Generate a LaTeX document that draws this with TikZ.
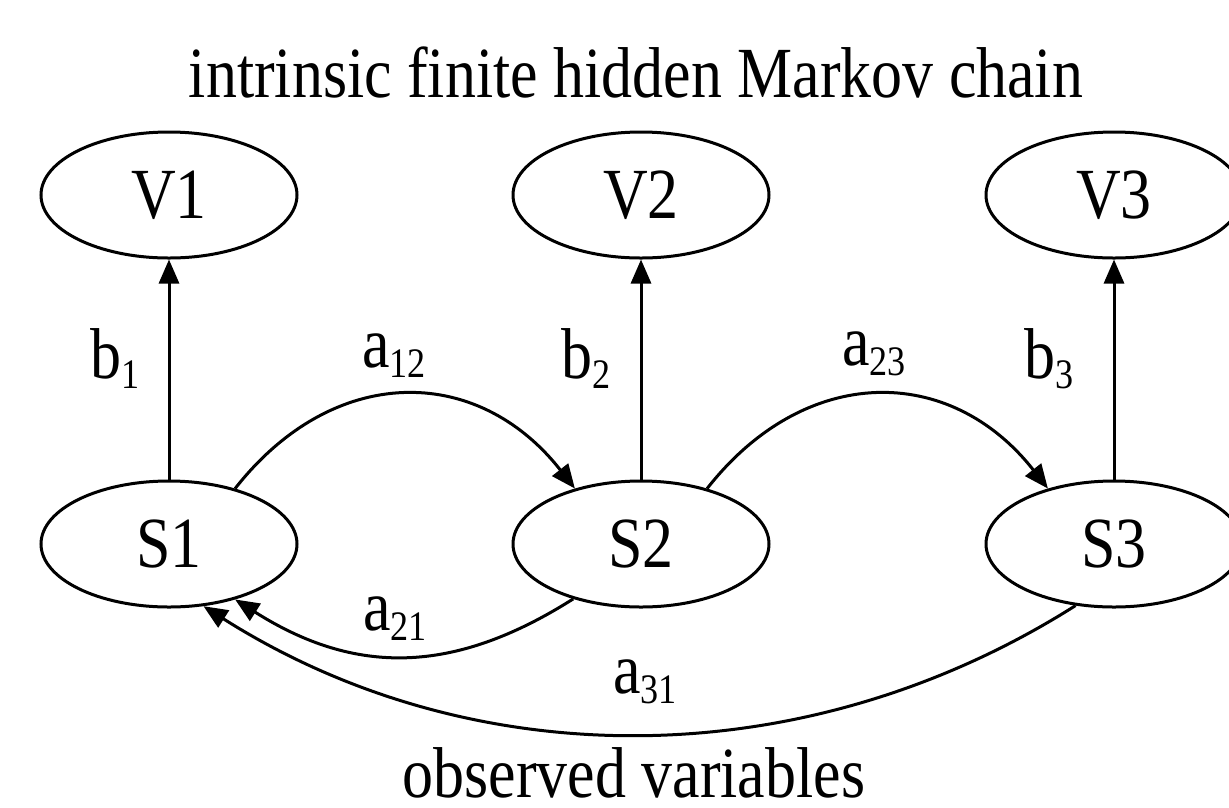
\documentclass[tikz,border=0pt]{standalone}
\usepackage{fontspec}
\setmainfont{Liberation Serif}[FakeStretch=0.86]
\usetikzlibrary{shapes.geometric,arrows.meta}
\newcommand\lbl[2]{#1\raisebox{-0.14em}{\fontsize{42}{42}\selectfont #2}}
\tikzset{
  st/.style={ellipse,draw,line width=3pt,minimum width=256pt,minimum height=126pt,inner sep=0pt,font=\fontsize{72}{80}\selectfont},
  edge/.style={line width=3pt,-{Triangle[length=24pt,width=20pt]}},
  lab/.style={anchor=base west,inner sep=0pt,font=\fontsize{72}{80}\selectfont},
  ttl/.style={anchor=base,inner sep=0pt,font=\fontsize{72}{80}\selectfont}
}
\begin{document}
\begin{tikzpicture}[x=1pt,y=1pt]
\useasboundingbox (0,0) rectangle (1229,-807);
\node[ttl] (title) at (636,-97) {intrinsic finite hidden Markov chain};
\node[ttl] (obs) at (634,-797) {observed variables};
\node[st] (V1) at (169,-195) {V1};
\node[st] (V2) at (641,-195) {V2};
\node[st] (V3) at (1114,-195) {V3};
\node[st] (S1) at (169,-544) {S1};
\node[st] (S2) at (641,-544) {S2};
\node[st] (S3) at (1114,-544) {S3};
\draw[edge] (S1) -- (V1);
\draw[edge] (S2) -- (V2);
\draw[edge] (S3) -- (V3);
\draw[edge] (S1.40) .. controls +(98,125) and +(-98,125) .. (S2.140);
\draw[edge] (S2.40) .. controls +(98,125) and +(-98,125) .. (S3.140);
\draw[edge] (S2.219) .. controls +(-120,-76) and +(120,-76) .. (S1.-40);
\draw[edge] (S3.238) .. controls +(-270,-171) and +(270,-171) .. (S1.-61);
\node[lab] (lb1) at (90,-378) {\lbl{b}{1}};
\node[lab] (la12) at (362,-367) {\lbl{a}{12}};
\node[lab] (lb2) at (561,-378) {\lbl{b}{2}};
\node[lab] (la23) at (842,-365) {\lbl{a}{23}};
\node[lab] (lb3) at (1024,-378) {\lbl{b}{3}};
\node[lab] (la21) at (363,-630) {\lbl{a}{21}};
\node[lab] (la31) at (613,-693) {\lbl{a}{31}};
\end{tikzpicture}
\end{document}
